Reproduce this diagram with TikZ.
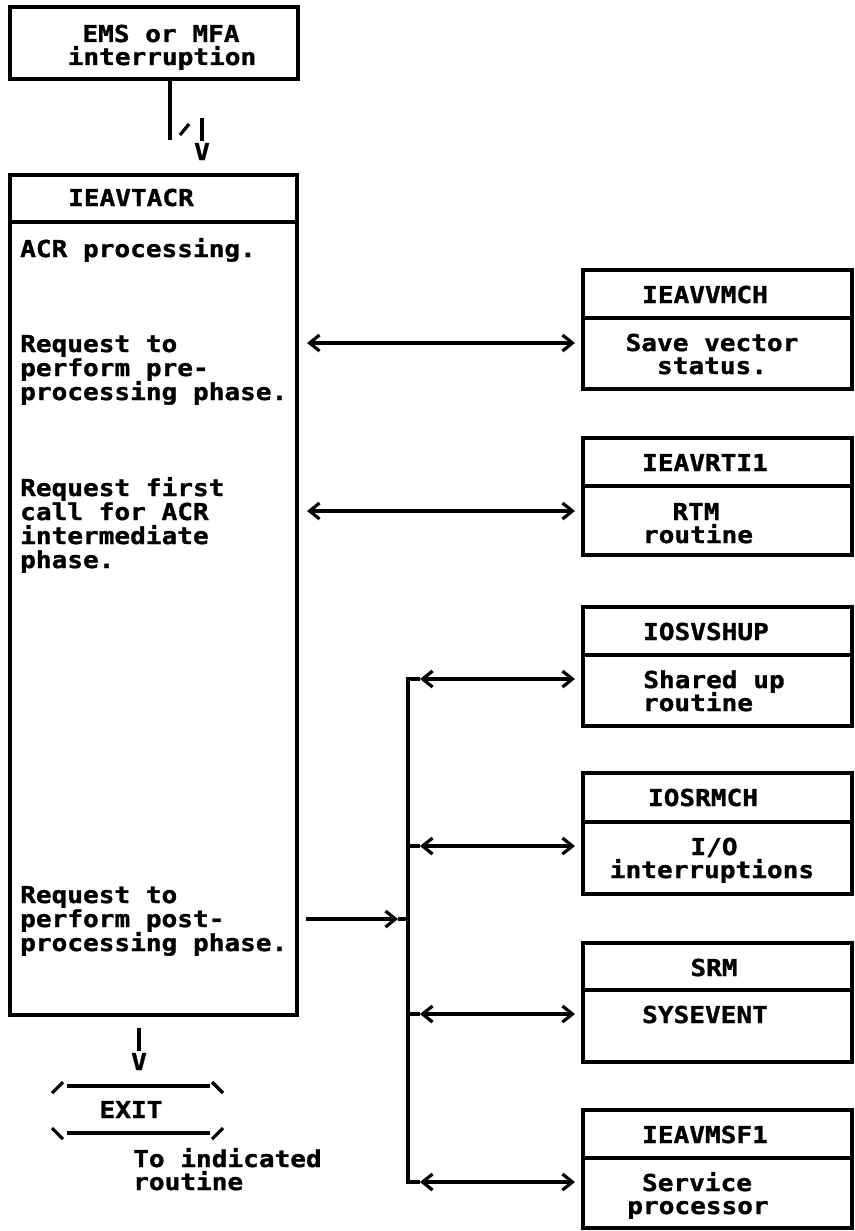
\documentclass[tikz,border=0pt]{standalone}
\usepackage{fontspec}
\newfontfamily\ibm[FakeStretch=1.12, BoldFeatures={FakeBold=1.2}]{DejaVu Sans Mono}
\usetikzlibrary{arrows.meta}
\tikzset{
  box/.style={draw, line width=3.2pt, rectangle, inner sep=0pt, outer sep=0pt, anchor=north west},
  txt/.style={inner sep=0pt, font=\ibm\bfseries\fontsize{23.3}{24}\selectfont},
  lt/.style={txt, anchor=base west},
  ct/.style={txt, anchor=base},
  conn/.style={line width=3.2pt},
  >={Straight Barb[length=10pt,width=16pt,line width=3.2pt]}
}
\begin{document}
\begin{tikzpicture}[x=1pt,y=-1pt]
\useasboundingbox (0,0) rectangle (854,1231);

% top box
\node[box,minimum width=288pt,minimum height=72pt] (ems) at (10,7) {};
\node[ct] (emst1) at (161,42) {EMS or MFA};
\node[ct] (emst2) at (162,65) {interruption};

\coordinate (emsend) at (170,140);
\draw[conn] (ems.south -| emsend) -- (emsend);
\coordinate (sl1) at (180,135);
\coordinate (sl2) at (189,124);
\draw[conn] (sl1) -- (sl2);
\coordinate (vbar) at (202,118);
\node[ct] (v1) at (202,160) {V};
\draw[conn,shorten >=2pt] (vbar) -- (v1.north);

% main box
\node[box,minimum width=287pt,minimum height=47pt] (acrh) at (10,175) {};
\node[box,minimum width=287pt,minimum height=793pt] (acrb) at (10,222) {};
\node[ct] (acrn) at (131,206) {IEAVTACR};

\node[lt] (m1) at (20,257) {ACR processing.};
\node[lt] (m2) at (20,352) {Request to};
\node[lt] (m3) at (20,376) {perform pre-};
\node[lt] (m4) at (20,400) {processing phase.};
\node[lt] (m5) at (20,496) {Request first};
\node[lt] (m6) at (20,520) {call for ACR};
\node[lt] (m7) at (20,544) {intermediate};
\node[lt] (m8) at (20,568) {phase.};
\node[lt] (m9) at (20,903) {Request to};
\node[lt] (m10) at (20,927) {perform post-};
\node[lt] (m11) at (20,951) {processing phase.};

% right boxes
\node[box,minimum width=269pt,minimum height=48pt] (vmchh) at (583,270) {};
\node[box,minimum width=269pt,minimum height=71pt] (vmchb) at (583,318) {};
\node[ct] (r1a) at (705,303) {IEAVVMCH};
\node[ct] (r1b) at (712,351) {Save vector};
\node[ct] (r1c) at (712,374) {status.};

\node[box,minimum width=269pt,minimum height=48pt] (rtih) at (583,438) {};
\node[box,minimum width=269pt,minimum height=69pt] (rtib) at (583,486) {};
\node[ct] (r2a) at (705,471) {IEAVRTI1};
\node[ct] (r2b) at (696,520) {RTM};
\node[ct] (r2c) at (698,543) {routine};

\node[box,minimum width=269pt,minimum height=48pt] (shuph) at (583,607) {};
\node[box,minimum width=269pt,minimum height=71pt] (shupb) at (583,655) {};
\node[ct] (r3a) at (706,640) {IOSVSHUP};
\node[ct] (r3b) at (714,688) {Shared up};
\node[ct] (r3c) at (698,711) {routine};

\node[box,minimum width=269pt,minimum height=49pt] (rmchh) at (583,773) {};
\node[box,minimum width=269pt,minimum height=72pt] (rmchb) at (583,822) {};
\node[ct] (r4a) at (703,806) {IOSRMCH};
\node[ct] (r4b) at (714,855) {I/O};
\node[ct] (r4c) at (712,878) {interruptions};

\node[box,minimum width=269pt,minimum height=47pt] (srmh) at (583,943) {};
\node[box,minimum width=269pt,minimum height=72pt] (srmb) at (583,990) {};
\node[ct] (r5a) at (714,976) {SRM};
\node[ct] (r5b) at (705,1023) {SYSEVENT};

\node[box,minimum width=269pt,minimum height=48pt] (msfh) at (583,1110) {};
\node[box,minimum width=269pt,minimum height=70pt] (msfb) at (583,1158) {};
\node[ct] (r6a) at (705,1143) {IEAVMSF1};
\node[ct] (r6b) at (697,1191) {Service};
\node[ct] (r6c) at (698,1214) {processor};

% direct arrows
\coordinate (y1) at (0,343);
\coordinate (y2) at (0,511);
\draw[conn,<->,shorten <=10pt,shorten >=8pt] (acrb.east |- y1) -- (vmchb.west |- y1);
\draw[conn,<->,shorten <=10pt,shorten >=8pt] (acrb.east |- y2) -- (rtib.west |- y2);

% bracket
\coordinate (s3) at (420,679);
\coordinate (s4) at (420,846);
\coordinate (s5) at (420,1014);
\coordinate (s6) at (420,1182);
\coordinate (bt) at (408,679);
\coordinate (bb) at (408,1182);
\draw[conn] (s3) -- (bt) -- (bb) -- (s6);
\draw[conn] (s4 -| bt) -- (s4);
\draw[conn] (s5 -| bt) -- (s5);
\draw[conn,<->,shorten >=8pt] (s3) -- (shupb.west |- s3);
\draw[conn,<->,shorten >=8pt] (s4) -- (rmchb.west |- s4);
\draw[conn,<->,shorten >=8pt] (s5) -- (srmb.west |- s5);
\draw[conn,<->,shorten >=8pt] (s6) -- (msfb.west |- s6);

% junction
\coordinate (jn) at (408,919);
\coordinate (jt) at (398,919);
\draw[conn,->,shorten <=9pt] (acrb.east |- jn) -- (jt);
\draw[conn] (jt) -- (jn);

% exit
\coordinate (xs) at (139,1028);
\node[ct] (xv) at (139,1070) {V};
\draw[conn,shorten >=2pt] (xs) -- (xv.north);
\node[ct] (exit) at (131,1118) {EXIT};
\coordinate (h1) at (52,1093);
\coordinate (h2) at (63,1082);
\coordinate (h3) at (67,1086);
\coordinate (h4) at (210,1086);
\coordinate (h5) at (212,1082);
\coordinate (h6) at (223,1093);
\coordinate (h7) at (52,1128);
\coordinate (h8) at (63,1139);
\coordinate (h9) at (67,1133);
\coordinate (h10) at (210,1133);
\coordinate (h11) at (212,1139);
\coordinate (h12) at (223,1128);
\draw[conn] (h1) -- (h2);
\draw[conn] (h3) -- (h4);
\draw[conn] (h5) -- (h6);
\draw[conn] (h7) -- (h8);
\draw[conn] (h9) -- (h10);
\draw[conn] (h11) -- (h12);
\node[lt] (to1) at (133,1167) {To indicated};
\node[lt] (to2) at (133,1190) {routine};
\end{tikzpicture}
\end{document}
